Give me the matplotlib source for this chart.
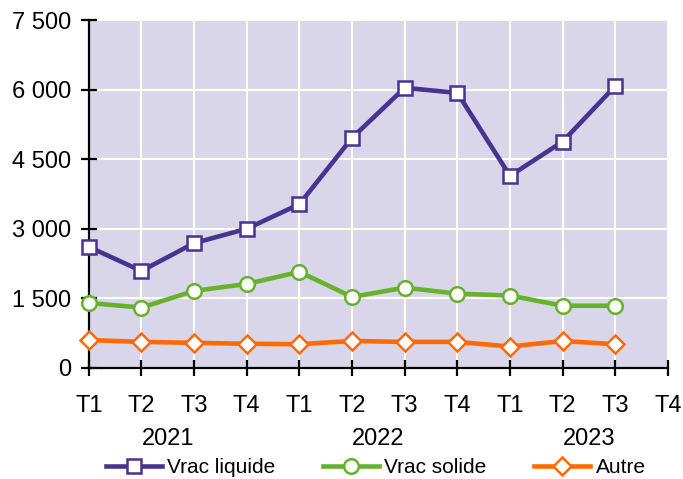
import matplotlib
matplotlib.use("Agg")
import matplotlib.pyplot as plt
from matplotlib.ticker import FuncFormatter

plt.rcParams['font.family'] = ['Liberation Sans', 'DejaVu Sans']

quarters = ["T1", "T2", "T3", "T4", "T1", "T2", "T3", "T4", "T1", "T2", "T3", "T4"]
years = ["2021", "2022", "2023"]
vrac_liquide = [2610, 2090, 2690, 3000, 3530, 4960, 6040, 5930, 4140, 4880, 6080]
vrac_solide = [1400, 1300, 1660, 1810, 2070, 1530, 1730, 1600, 1560, 1340, 1340]
autre = [600, 560, 540, 520, 510, 580, 560, 560, 460, 580, 510]

c_liq = "#473390"
c_sol = "#67b22d"
c_aut = "#ff6a00"
FS = 17
LFS = 15

fig = plt.figure(figsize=(6.83, 4.79), dpi=100)
ax = fig.add_axes([0.130, 0.232, 0.848, 0.726])
ax.set_facecolor("#d9d6e9")

x = list(range(len(vrac_liquide)))
ax.plot(x, vrac_liquide, color=c_liq, lw=3.3, marker="s", ms=10,
        mfc="white", mec=c_liq, mew=1.8, label="Vrac liquide", zorder=3, clip_on=False)
ax.plot(x, vrac_solide, color=c_sol, lw=3.3, marker="o", ms=10.5,
        mfc="white", mec=c_sol, mew=1.8, label="Vrac solide", zorder=3, clip_on=False)
ax.plot(x, autre, color=c_aut, lw=3.3, marker="D", ms=9,
        mfc="white", mec=c_aut, mew=1.8, label="Autre", zorder=3, clip_on=False)

ax.set_xlim(0, len(quarters) - 1)
ax.set_ylim(0, 7500)
ax.set_yticks([0, 1500, 3000, 4500, 6000, 7500])
ax.yaxis.set_major_formatter(FuncFormatter(lambda v, p: f"{int(v):,}".replace(",", " ")))
ax.set_xticks(range(len(quarters)))
ax.set_xticklabels(quarters)

ax.grid(True, color="white", lw=1.5, zorder=0)
ax.set_axisbelow(True)
for s in ["top", "right"]:
    ax.spines[s].set_visible(False)
for s in ["left", "bottom"]:
    ax.spines[s].set_linewidth(1.6)
    ax.spines[s].set_color("black")
ax.tick_params(axis="both", direction="inout", length=11, width=1.6, labelsize=FS, colors="black")
ax.tick_params(axis="x", pad=14)
ax.tick_params(axis="y", pad=7)

for i, yr in enumerate(years):
    ax.text(4 * i + 1.5, -0.2213, yr, transform=ax.get_xaxis_transform(),
            ha="center", va="baseline", fontsize=FS)

fig.legend(loc="center left", bbox_to_anchor=(106 / 683, 0.024), ncol=3, frameon=False,
           fontsize=LFS, handlelength=2.69, columnspacing=2.3, handletextpad=0.24,
           borderpad=0, borderaxespad=0)

fig.savefig("out.png", dpi=100)
